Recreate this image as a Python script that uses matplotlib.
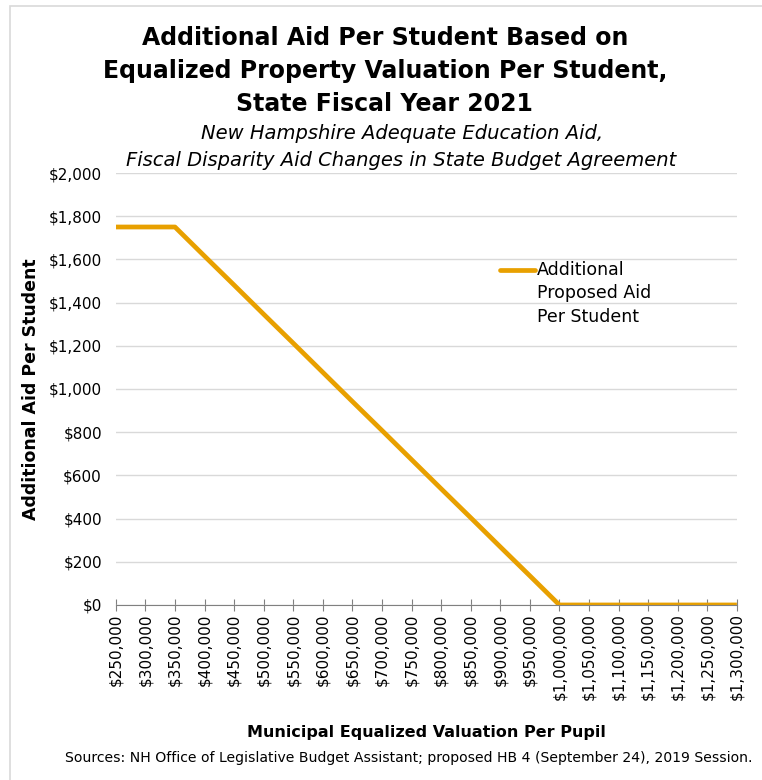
import matplotlib
matplotlib.use("Agg")
import matplotlib.pyplot as plt
from matplotlib.lines import Line2D
from matplotlib.ticker import FuncFormatter

# valuation per pupil (categories) and additional aid per student
valuation = [250000, 300000, 350000, 400000, 450000, 500000, 550000, 600000,
             650000, 700000, 750000, 800000, 850000, 900000, 950000, 1000000,
             1050000, 1100000, 1150000, 1200000, 1250000, 1300000]
aid = [1750, 1750, 1750, 1615, 1481, 1346, 1212, 1077, 942, 808, 673, 538,
       404, 269, 135, 0, 0, 0, 0, 0, 0, 0]
series_name = 'Additional\nProposed Aid\nPer Student'
line_color = '#E8A000'

plt.rcParams['font.family'] = ['DejaVu Sans']

fig = plt.figure(figsize=(7.62, 7.80), dpi=100)
# light frame around the chart area (right/bottom edges fall outside the image)
fig.patches.append(plt.Rectangle((9.5 / 762, -0.01), 1.0, 1 - 6.5 / 780 + 0.01,
                                 transform=fig.transFigure, fill=False,
                                 edgecolor='#d9d9d9', linewidth=1.2))
ax = fig.add_axes([0.152, 0.2244, 0.815, 0.5538])

pos = list(range(len(valuation)))
ax.plot(pos, aid, color=line_color, linewidth=3.4, solid_capstyle='butt')

ax.set_xlim(0, len(valuation) - 1)
ax.set_ylim(0, 2000)
ax.set_yticks(range(0, 2001, 200))
ax.yaxis.set_major_formatter(FuncFormatter(lambda v, p: f'${v:,.0f}'))
ax.set_xticks(pos)
ax.set_xticklabels([f'${v:,}' for v in valuation], rotation=90)

ax.grid(axis='y', color='#d9d9d9', linewidth=1)
ax.set_axisbelow(True)
for s in ['top', 'right', 'left']:
    ax.spines[s].set_visible(False)
ax.spines['bottom'].set_color('#808080')
ax.tick_params(axis='y', length=0, labelsize=11, pad=10)
ax.tick_params(axis='x', direction='inout', length=8, color='#808080', labelsize=11, pad=2)

ax.set_ylabel('Additional Aid Per Student', fontsize=12.5, fontweight='bold', labelpad=6)
ax.set_xlabel('Municipal Equalized Valuation Per Pupil', fontsize=11.5, fontweight='bold', labelpad=18)

# legend: handle sits next to the first line of the label
ax.add_line(Line2D([0.618, 0.675], [0.775, 0.775], transform=ax.transAxes,
                   color=line_color, linewidth=3.4, solid_capstyle='round'))
ax.text(0.678, 0.797, series_name, transform=ax.transAxes, ha='left', va='top',
        fontsize=12.5, linespacing=1.4)

fig.text(0.505, 0.967, 'Additional Aid Per Student Based on\nEqualized Property Valuation Per Student,\nState Fiscal Year 2021',
         ha='center', va='top', fontsize=17, fontweight='bold', linespacing=1.48)
fig.text(0.527, 0.841, 'New Hampshire Adequate Education Aid,\nFiscal Disparity Aid Changes in State Budget Agreement',
         ha='center', va='top', fontsize=14, style='italic', linespacing=1.5)
fig.text(0.988, 0.028, 'Sources: NH Office of Legislative Budget Assistant; proposed HB 4 (September 24), 2019 Session.',
         ha='right', va='center', fontsize=10.1)

fig.savefig('out.png', dpi=100)
